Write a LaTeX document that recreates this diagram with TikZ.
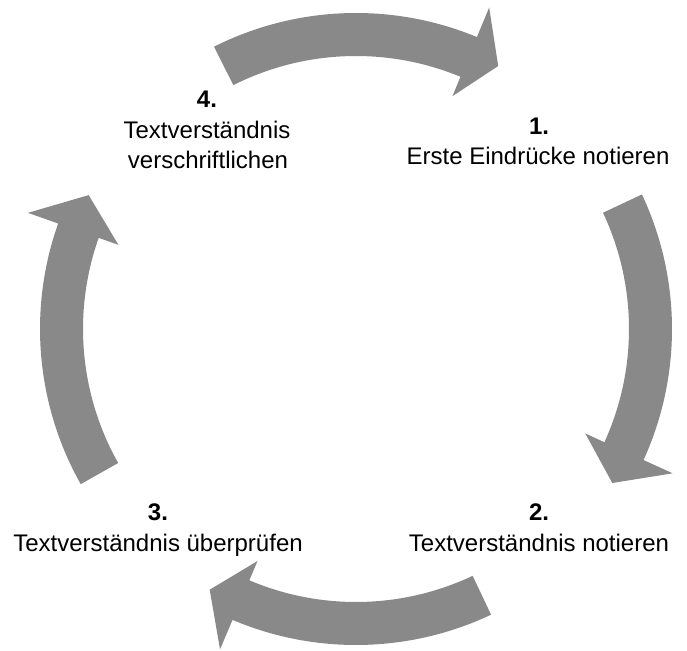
\documentclass[tikz,border=0pt]{standalone}
\usepackage{fontspec}
\setmainfont{Liberation Sans}
\definecolor{arrowgray}{HTML}{898989}
\tikzset{
  cyclearrowfill/.style={fill=arrowgray, draw=none},
  labeltext/.style={inner sep=0pt, anchor=base, font=\fontsize{24}{28}\selectfont},
  labelnum/.style={inner sep=0pt, anchor=base, font=\fontsize{24}{28}\selectfont\bfseries}
}
\newcommand\cyclearrow[3]{%
  \fill[cyclearrowfill, shift={(356,321)}]
    (#1:316) arc[start angle=#1, end angle=#2, radius=316]
    -- (#2:348) -- (#3:299) -- (#2:252) -- (#2:273)
    arc[start angle=#2, end angle=#1, radius=273] -- cycle;}
\begin{document}
\begin{tikzpicture}[x=1pt,y=1pt]
\useasboundingbox (0,0) rectangle (687,650);
% arrows (clockwise)
\cyclearrow{116.7}{67.5}{61.6}
\cyclearrow{25.2}{-24.5}{-31}
\cyclearrow{-64.7}{-113}{-119.3}
\cyclearrow{209.4}{160.5}{153.4}
% labels
\node[labelnum]  (n1)  at (539,650-135) {1.};
\node[labeltext] (t1)  at (538,650-165) {Erste Eindrücke notieren};
\node[labelnum]  (n2)  at (539,650-521) {2.};
\node[labeltext] (t2)  at (539,650-552) {Textverständnis notieren};
\node[labelnum]  (n3)  at (158,650-521) {3.};
\node[labeltext] (t3)  at (158,650-552) {Textverständnis überprüfen};
\node[labelnum]  (n4)  at (207,650-108) {4.};
\node[labeltext] (t4a) at (207,650-139) {Textverständnis};
\node[labeltext] (t4b) at (208,650-169) {verschriftlichen};
\end{tikzpicture}
\end{document}
